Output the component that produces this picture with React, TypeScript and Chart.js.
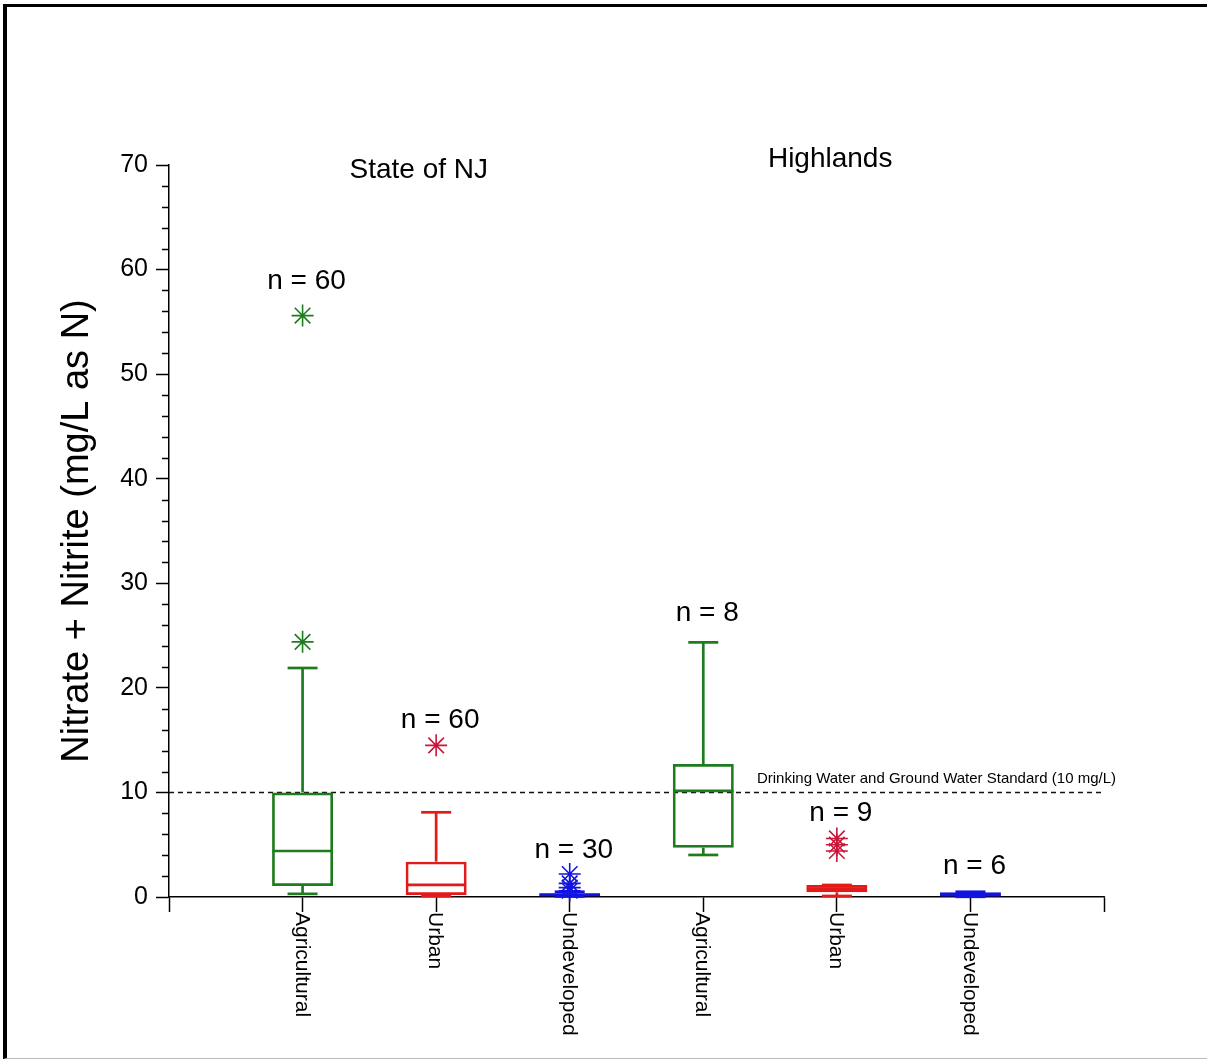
import React, { useEffect, useRef } from 'react';
import { Chart, registerables } from 'chart.js';

Chart.register(...registerables);

// ---------- data ----------
const categories = ['Agricultural', 'Urban', 'Undeveloped', 'Agricultural', 'Urban', 'Undeveloped'];
const groupTitles = ['State of NJ', 'Highlands'];
const nCounts = [60, 60, 30, 8, 9, 6];
const nLabelY = [58.9, 16.9, 4.5, 27.1, 8.0, 2.9];
const whiskerLow = [0.3, 0.1, 0.05, 4.02, 0.1, 0.02];
const q1 = [1.05, 0.2, 0.1, 4.72, 0.45, 0.05];
const median = [4.4, 1.15, 0.2, 10.14, 0.8, 0.2];
const q3 = [10.0, 3.38, 0.35, 12.72, 1.15, 0.45];
const whiskerHigh = [21.9, 8.1, 0.5, 24.35, 1.15, 0.5];
const outliers: number[][] = [[24.4, 55.6], [14.5], [2.2, 1.3, 0.9, 0.6], [], [5.6, 5.0, 4.4], []];
const standardValue = 10;
const standardLabel = 'Drinking Water and Ground Water Standard (10 mg/L)';
const yAxisTitle = 'Nitrate + Nitrite (mg/L as N)';
const yMin = 0;
const yMax = 70;
const yMajorStep = 10;
const yMinorStep = 2;

// ---------- styles ----------
const boxColors = ['#1e7b1e', '#e41a1a', '#1414e0', '#1e7b1e', '#e41a1a', '#1414e0'];
const outlierColors = ['#1e7b1e', '#c8163a', '#1414e0', '#1e7b1e', '#c8163a', '#1414e0'];
const FONT = '"Liberation Sans", Arial, Helvetica, sans-serif';

const boxData = categories.map((_, i) => ({ x: i + 1, y: [q1[i], q3[i]] }));
const outlierData = outliers.flatMap((vals, i) => vals.map((v) => ({ x: i + 1, y: v })));
const outlierPointColors = outliers.flatMap((vals, i) => vals.map(() => outlierColors[i]));

const extrasPlugin = {
  id: 'boxExtras',
  afterDatasetsDraw(chart: any) {
    const { ctx } = chart;
    const xs = chart.scales.x;
    const ys = chart.scales.y;
    ctx.save();
    ctx.lineWidth = 2.7;
    ctx.lineCap = 'butt';
    categories.forEach((_, i) => {
      const cx = xs.getPixelForValue(i + 1);
      const half = 30;
      const cap = 15;
      ctx.strokeStyle = boxColors[i];
      const line = (x1: number, y1: number, x2: number, y2: number) => {
        ctx.beginPath();
        ctx.moveTo(x1, y1);
        ctx.lineTo(x2, y2);
        ctx.stroke();
      };
      const ym = ys.getPixelForValue(median[i]);
      line(cx - half, ym, cx + half, ym);
      const yq3 = ys.getPixelForValue(q3[i]);
      const yhi = ys.getPixelForValue(whiskerHigh[i]);
      line(cx, yq3, cx, yhi);
      line(cx - cap, yhi, cx + cap, yhi);
      const yq1 = ys.getPixelForValue(q1[i]);
      const ylo = ys.getPixelForValue(whiskerLow[i]);
      line(cx, yq1, cx, ylo);
      line(cx - cap, ylo, cx + cap, ylo);
    });
    ctx.restore();
  },
  afterDraw(chart: any) {
    const { ctx, chartArea } = chart;
    const xs = chart.scales.x;
    const ys = chart.scales.y;
    ctx.save();
    // minor y ticks
    ctx.strokeStyle = '#000';
    ctx.lineWidth = 1.5;
    for (let v = yMin + yMinorStep; v < yMax; v += yMinorStep) {
      if (v % yMajorStep === 0) continue;
      const py = Math.round(ys.getPixelForValue(v)) + 0.5;
      ctx.beginPath();
      ctx.moveTo(chartArea.left - 7, py);
      ctx.lineTo(chartArea.left, py);
      ctx.stroke();
    }
    ctx.fillStyle = '#000';
    // n labels
    ctx.font = `28px ${FONT}`;
    ctx.textAlign = 'center';
    ctx.textBaseline = 'middle';
    nCounts.forEach((n, i) => {
      ctx.fillText(`n = ${n}`, xs.getPixelForValue(i + 1) + 4, ys.getPixelForValue(nLabelY[i]));
    });
    // group titles
    ctx.fillText(groupTitles[0], xs.getPixelForValue(1.87), ys.getPixelForValue(69.5));
    ctx.fillText(groupTitles[1], xs.getPixelForValue(4.95), ys.getPixelForValue(70.5));
    // standard label
    ctx.font = `15px ${FONT}`;
    ctx.textAlign = 'right';
    ctx.textBaseline = 'alphabetic';
    ctx.fillText(standardLabel, xs.getPixelForValue(7) + 12, ys.getPixelForValue(standardValue) - 9);
    // rotated category labels
    ctx.font = `21px ${FONT}`;
    ctx.textAlign = 'left';
    ctx.textBaseline = 'middle';
    categories.forEach((c, i) => {
      ctx.save();
      ctx.translate(xs.getPixelForValue(i + 1) - 1, chartArea.bottom + 15);
      ctx.rotate(Math.PI / 2);
      ctx.fillText(c, 0, 0);
      ctx.restore();
    });
    ctx.restore();
  },
};

export default function App() {
  const ref = useRef<HTMLCanvasElement>(null);
  useEffect(() => {
    const canvas = ref.current;
    if (!canvas) return;
    const chart = new Chart(canvas, {
      type: 'scatter',
      data: {
        datasets: [
          {
            type: 'scatter',
            data: outlierData,
            pointStyle: 'star',
            pointRadius: 11,
            pointBorderWidth: 1.6,
            pointBorderColor: outlierPointColors,
            pointBackgroundColor: outlierPointColors,
            clip: false,
            order: 1,
          } as any,
          {
            type: 'bar',
            data: boxData,
            borderColor: boxColors,
            backgroundColor: 'rgba(0,0,0,0)',
            borderWidth: 2.7,
            borderSkipped: false,
            barThickness: 61,
            inflateAmount: 0,
            order: 2,
          } as any,
          {
            type: 'line',
            data: [
              { x: 0, y: standardValue },
              { x: 7, y: standardValue },
            ],
            borderColor: '#111',
            borderWidth: 1.5,
            borderDash: [5, 4],
            pointRadius: 0,
            order: 3,
          } as any,
        ],
      },
      options: {
        animation: false,
        responsive: false,
        layout: { padding: { left: 0, top: 165, right: 103, bottom: 0 } },
        plugins: { legend: { display: false }, tooltip: { enabled: false } },
        scales: {
          x: {
            type: 'linear',
            min: 0,
            max: 7,
            offset: false,
            ticks: { display: false, stepSize: 1 },
            grid: { offset: false, drawOnChartArea: false, drawTicks: true, tickLength: 15, tickColor: '#000', tickWidth: 1.5 },
            border: { display: true, color: '#000', width: 1.5 },
            afterFit: (s: any) => {
              s.height = 164;
            },
          },
          y: {
            type: 'linear',
            min: yMin,
            max: yMax,
            ticks: { stepSize: yMajorStep, color: '#000', font: { family: FONT, size: 25 }, padding: 8 },
            grid: { drawOnChartArea: false, drawTicks: true, tickLength: 13, tickColor: '#000', tickWidth: 1.5 },
            border: { display: true, color: '#000', width: 1.5 },
            title: { display: true, text: yAxisTitle, color: '#000', font: { family: FONT, size: 38 }, padding: { top: 55, bottom: 0 } },
            afterFit: (s: any) => {
              s.width = 169;
            },
          },
        },
      } as any,
      plugins: [extrasPlugin],
    });
    return () => chart.destroy();
  }, []);
  return (
    <div style={{ position: 'absolute', left: 0, top: 0, width: 1207, height: 1061, background: '#fff', overflow: 'hidden' }}>
      <canvas ref={ref} width={1207} height={1061} style={{ display: 'block', width: 1207, height: 1061 }} />
      <div
        style={{
          position: 'absolute',
          left: 3,
          top: 4,
          width: 1204,
          height: 1055,
          borderLeft: '4px solid #000',
          borderTop: '3px solid #000',
          borderBottom: '1px solid #bbb',
          boxSizing: 'border-box',
          pointerEvents: 'none',
        }}
      />
    </div>
  );
}
